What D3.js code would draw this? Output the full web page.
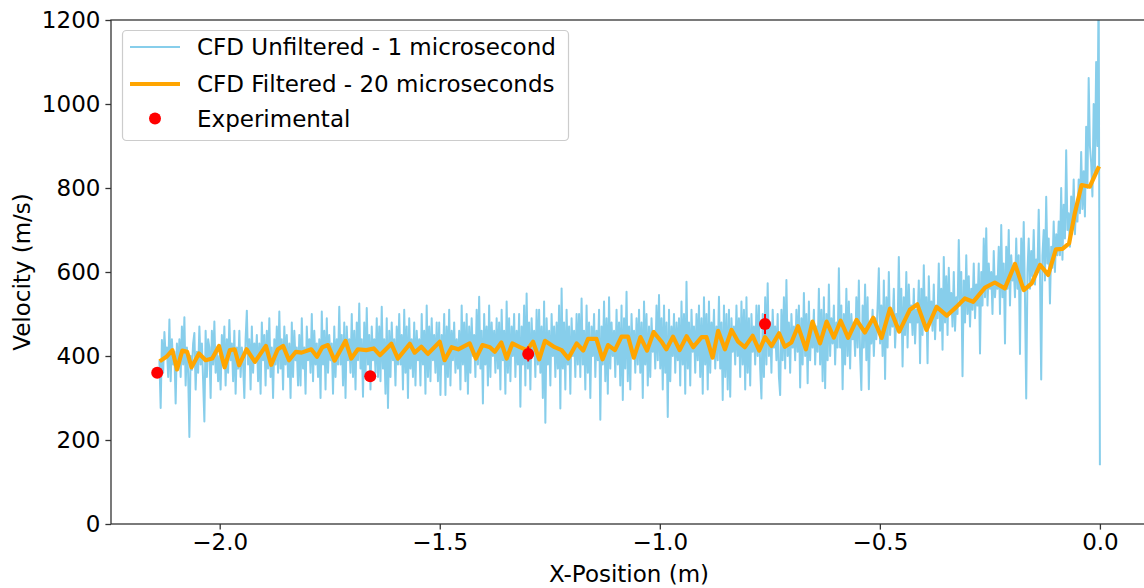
<!DOCTYPE html>
<html>
<head>
<meta charset="utf-8">
<script src="https://cdn.jsdelivr.net/npm/d3@7"></script>
<style>
  body { margin: 0; background: white; }
  text { font-family: "DejaVu Sans", sans-serif; }
</style>
</head>
<body>
<script>
const W = 1144, H = 588;

// CFD unfiltered (1 microsecond), evenly sampled from blueStart to blueEnd
const blueStart = -2.137, blueEnd = 0.0;
const blueY = [
  390,276,438,360,457,400,420,350,487,340,440,380,410,287,430,370,
  440,350,470,380,492,330,420,360,207,400,367,430,455,320,410,360,
  470,380,430,340,244,460,350,440,420,300,460,380,482,360,420,340,
  400,320,450,380,470,330,440,360,486,390,430,340,460,310,420,370,
  460,350,420,380,300,440,508,380,440,320,470,360,430,390,450,340,
  430,310,480,390,450,330,460,370,490,350,420,300,440,380,470,360,
  506,370,440,320,470,380,450,350,430,300,480,350,460,390,420,330,
  450,330,490,370,420,310,470,390,440,360,500,340,460,380,430,350,
  440,300,506,380,460,320,490,360,450,390,430,310,470,350,440,380,
  517,380,450,330,480,300,470,390,440,360,500,350,460,320,480,390,
  525,370,440,303,480,350,514,380,450,320,470,390,440,360,490,350,
  470,340,517,370,440,310,490,276,460,350,480,390,440,330,470,380,
  500,380,450,320,510,360,470,300,490,370,440,350,480,330,460,390,
  440,330,500,380,460,310,520,350,470,340,490,390,450,360,480,340,
  480,307,450,380,500,307,470,350,510,330,460,390,480,360,440,370,
  460,320,520,380,480,340,500,310,470,360,490,400,450,350,510,380,
  541,370,460,287,500,380,470,330,520,350,480,400,460,360,490,370,
  480,320,510,390,460,310,530,360,490,340,470,400,500,350,460,380,
  500,279,470,380,520,330,549,370,480,320,490,400,460,350,510,380,
  510,360,470,300,530,241,490,380,460,330,500,400,470,350,480,370,
  520,275,561,370,480,320,510,380,470,310,490,400,460,350,500,380,
  500,350,537,380,460,320,520,360,480,300,470,400,500,350,460,390,
  510,248,470,380,530,340,490,310,540,370,480,400,460,350,510,380,
  480,330,520,295,490,370,553,340,470,320,500,400,460,360,490,380,
  510,360,480,300,530,380,500,330,470,350,490,410,460,370,520,390,
  545,370,490,320,520,360,480,255,510,340,470,400,500,360,480,390,
  490,330,530,380,500,310,577,370,480,330,510,410,470,360,500,390,
  520,350,490,310,540,380,500,320,530,360,480,410,510,370,470,390,
  541,370,480,295,520,350,500,320,510,303,490,410,470,380,520,400,
  490,350,530,380,510,320,540,360,490,330,500,410,470,380,520,400,
  520,370,299,500,350,540,380,573,400,480,360,510,420,470,390,500,
  350,307,510,390,540,370,581,400,480,360,500,420,470,390,510,410,
  520,325,490,380,550,400,500,335,530,390,480,420,510,380,470,410,
  560,380,510,340,540,323,500,390,570,400,490,430,520,380,480,420,
  609,420,520,321,500,380,560,400,530,370,500,440,480,400,540,420,
  580,400,319,520,420,570,390,540,321,480,430,510,400,490,440,520,
  609,430,520,400,580,345,540,420,600,450,510,470,560,420,500,460,
  636,460,560,375,540,450,600,420,570,480,520,450,560,430,510,480,
  580,383,560,450,616,470,540,383,590,480,530,460,570,440,520,490,
  620,460,560,415,636,480,590,450,610,500,550,470,600,460,540,500,
  676,520,600,352,580,480,640,500,590,470,560,510,620,490,570,520,
  620,406,600,520,680,540,704,520,620,560,600,500,650,540,590,560,
  660,500,712,540,620,430,660,560,700,520,640,580,610,540,680,560,
  640,405,680,560,719,540,299,600,680,560,650,590,700,570,630,600,
  748,600,344,640,700,580,779,620,680,525,660,610,720,600,690,640,
  720,640,800,629,760,680,890,700,740,660,780,700,820,690,760,720,
  820,740,886,750,840,732,946,800,1062,900,860,780,1000,840,1100,900,1300,140
];

// CFD filtered (20 microseconds)
const orangeX = [
  -2.1325,-2.121,-2.1075,-2.097,-2.085,-2.074,-2.064,-2.047,-2.032,-2.017,
  -2.0016,-1.989,-1.977,-1.966,-1.956,-1.939,-1.920,-1.895,-1.883,-1.868,
  -1.856,-1.8425,-1.827,-1.814,-1.792,-1.779,-1.767,-1.754,-1.739,-1.714,
  -1.701,-1.686,-1.667,-1.650,-1.636,-1.610,-1.595,-1.568,-1.557,-1.542,
  -1.527,-1.500,-1.489,-1.473,-1.458,-1.432,-1.418,-1.403,-1.386,-1.375,
  -1.360,-1.348,-1.335,-1.318,-1.302,-1.288,-1.274,-1.261,-1.239,-1.223,
  -1.208,-1.189,-1.174,-1.163,-1.144,-1.130,-1.1175,-1.102,-1.087,-1.072,
  -1.059,-1.044,-1.029,-1.014,-0.996,-0.985,-0.970,-0.955,-0.939,-0.924,
  -0.905,-0.894,-0.880,-0.8675,-0.852,-0.837,-0.822,-0.807,-0.789,-0.774,
  -0.761,-0.746,-0.729,-0.716,-0.701,-0.686,-0.668,-0.653,-0.636,-0.621,
  -0.6045,-0.589,-0.572,-0.553,-0.534,-0.515,-0.496,-0.477,-0.456,-0.432,
  -0.415,-0.394,-0.371,-0.348,-0.326,-0.307,-0.288,-0.261,-0.239,-0.216,
  -0.193,-0.173,-0.155,-0.136,-0.1175,-0.100,-0.085,-0.070,-0.057,-0.0416,
  -0.023,-0.004
];
const orangeY = [
  390,398,414,368,413,410,373,406,390,394,
  424,373,414,416,378,416,386,424,379,416,
  424,390,410,408,416,398,421,426,389,436,
  394,416,414,418,402,429,394,429,408,422,
  405,434,390,421,416,430,394,426,421,410,
  432,394,430,421,414,434,392,436,421,414,
  394,430,413,441,441,392,426,414,446,446,
  396,445,413,457,434,416,446,414,447,421,
  445,445,396,460,416,462,434,421,448,413,
  445,424,454,422,432,471,416,482,430,482,
  444,484,443,486,456,491,443,513,458,510,
  523,462,517,496,517,537,529,563,575,561,
  619,557,573,617,593,654,655,668,740,807,
  803,847
];

// Experimental
const expX = [-2.142, -1.658, -1.299, -0.761];
const expY = [360, 352, 405, 476];
const expErr = [0, 0, 18, 24];

const yTicks = [0, 200, 400, 600, 800, 1000, 1200];
const xTicks = [-2.0, -1.5, -1.0, -0.5, 0.0];

const legendLabels = ["CFD Unfiltered - 1 microsecond", "CFD Filtered - 20 microseconds", "Experimental"];

const plotLeft = 111, plotRight = 1147, plotTop = 20, plotBottom = 524;
const fs = 23;

const svg = d3.select("body").append("svg")
    .attr("width", W).attr("height", H);

const x = d3.scaleLinear().domain([-2.247, 0.107]).range([plotLeft, plotRight]);
const y = d3.scaleLinear().domain([0, 1200]).range([plotBottom, plotTop]);

svg.append("clipPath").attr("id", "plotclip")
    .append("rect")
    .attr("x", plotLeft).attr("y", plotTop)
    .attr("width", plotRight - plotLeft).attr("height", plotBottom - plotTop);

const plot = svg.append("g").attr("clip-path", "url(#plotclip)");

const blueStep = (blueEnd - blueStart) / (blueY.length - 1);
const blueData = blueY.map((v, i) => [blueStart + i * blueStep, v]);

const line = d3.line().x(d => x(d[0])).y(d => y(d[1]));

plot.append("path")
    .datum(blueData)
    .attr("d", line)
    .attr("fill", "none")
    .attr("stroke", "skyblue")
    .attr("stroke-width", 2)
    .attr("stroke-linejoin", "round");

plot.append("path")
    .datum(orangeX.map((v, i) => [v, orangeY[i]]))
    .attr("d", line)
    .attr("fill", "none")
    .attr("stroke", "orange")
    .attr("stroke-width", 4.2)
    .attr("stroke-linejoin", "round")
    .attr("stroke-linecap", "square");

const exp = plot.append("g");
expX.forEach((v, i) => {
    if (expErr[i] > 0) {
        exp.append("line")
            .attr("x1", x(v)).attr("x2", x(v))
            .attr("y1", y(expY[i] - expErr[i])).attr("y2", y(expY[i] + expErr[i]))
            .attr("stroke", "red").attr("stroke-width", 2);
    }
    exp.append("circle")
        .attr("cx", x(v)).attr("cy", y(expY[i]))
        .attr("r", 6).attr("fill", "red");
});

// axes
const xAxis = svg.append("g")
    .attr("transform", `translate(0,${plotBottom})`)
    .call(d3.axisBottom(x).tickValues(xTicks).tickFormat(d3.format(".1f")).tickSize(5.6).tickPadding(4));
const yAxis = svg.append("g")
    .attr("transform", `translate(${plotLeft},0)`)
    .call(d3.axisLeft(y).tickValues(yTicks).tickFormat(d3.format("d")).tickSize(5.6).tickPadding(5));

for (const ax of [xAxis, yAxis]) {
    ax.select(".domain").remove();
    ax.selectAll(".tick line").attr("stroke", "#333").attr("stroke-width", 1.3);
    ax.selectAll(".tick text").attr("font-size", fs).attr("fill", "black")
        .style("font-family", "DejaVu Sans");
}

// spines
svg.append("rect")
    .attr("x", plotLeft).attr("y", plotTop)
    .attr("width", plotRight - plotLeft).attr("height", plotBottom - plotTop)
    .attr("fill", "none").attr("stroke", "#333").attr("stroke-width", 1.3);

svg.append("text")
    .attr("x", (plotLeft + plotRight) / 2).attr("y", 582)
    .attr("text-anchor", "middle").attr("font-size", fs)
    .text("X-Position (m)");

svg.append("text")
    .attr("transform", `translate(30,${(plotTop + plotBottom) / 2}) rotate(-90)`)
    .attr("text-anchor", "middle").attr("font-size", fs)
    .text("Velocity (m/s)");

// legend
const lg = svg.append("g");
lg.append("rect")
    .attr("x", 122.5).attr("y", 30.5).attr("width", 446).attr("height", 110)
    .attr("rx", 4).attr("fill", "white").attr("fill-opacity", 0.8)
    .attr("stroke", "#cccccc").attr("stroke-width", 1.2);
const rows = [47, 84, 118.5];
lg.append("line").attr("x1", 130).attr("x2", 180).attr("y1", rows[0]).attr("y2", rows[0])
    .attr("stroke", "skyblue").attr("stroke-width", 2);
lg.append("line").attr("x1", 130).attr("x2", 180).attr("y1", rows[1]).attr("y2", rows[1])
    .attr("stroke", "orange").attr("stroke-width", 4.2);
lg.append("circle").attr("cx", 155).attr("cy", rows[2]).attr("r", 6).attr("fill", "red");
legendLabels.forEach((t, i) => {
    lg.append("text")
        .attr("x", 197).attr("y", rows[i])
        .attr("dy", "0.35em").attr("font-size", fs)
        .text(t);
});
</script>
</body>
</html>
